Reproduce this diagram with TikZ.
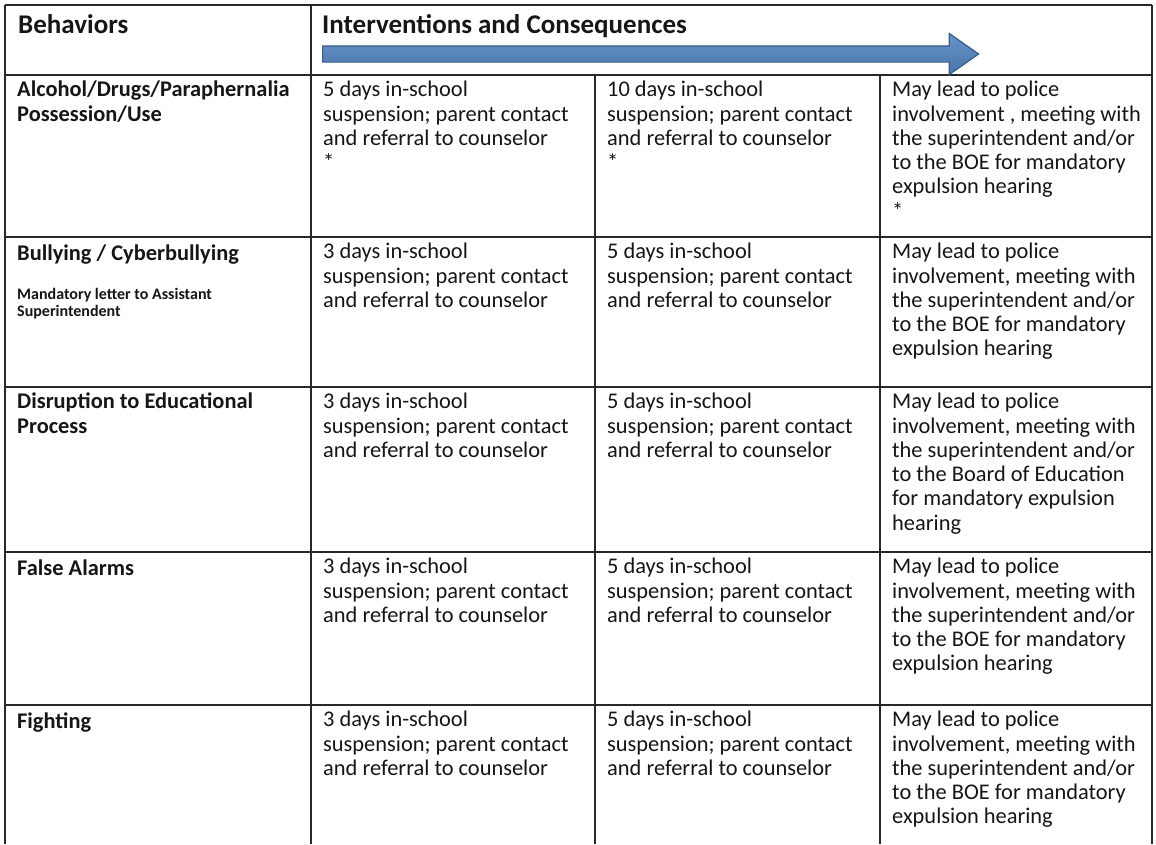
\documentclass[tikz,border=0pt]{standalone}
\usepackage{fontspec}
\setmainfont{Carlito}
\usepackage{tikz}
\usetikzlibrary{shapes.arrows, positioning}
\definecolor{gridline}{RGB}{40, 40, 40}
\definecolor{ink}{RGB}{22, 22, 22}
\definecolor{arrowblue}{RGB}{79, 129, 189}
\definecolor{arrowedge}{RGB}{56, 93, 138}
\newcommand{\bodysize}{\fontsize{22.4}{24.3}\selectfont}
\newcommand{\headsize}{\fontsize{27}{32}\selectfont}
\newcommand{\notesize}{\fontsize{16}{17}\selectfont}
\tikzset{
    cell/.style={anchor=north west, align=left, inner sep=0pt, text=ink, font=\bodysize, execute at begin node=\strut},
    behavior/.style={cell, font=\bodysize\bfseries},
    note/.style={cell, font=\notesize\bfseries},
    heading/.style={cell, font=\headsize\bfseries},
    rule/.style={draw=gridline, line width=1.8pt},
    steparrow/.style={single arrow, draw=arrowedge, line width=1.2pt, top color=arrowblue!85!white, bottom color=arrowblue!90!black, minimum height=656pt, inner xsep=0pt, inner ysep=7.5pt, single arrow head extend=12.5pt, single arrow tip angle=70, anchor=tail}
}

\begin{document}
\begin{tikzpicture}[x=1pt, y=-1pt]
        \useasboundingbox[fill=white] (0, 0) rectangle (1156, 844);

        % Table rules
        \draw[rule] (5, 5) -- (1152, 5);
        \draw[rule] (5, 75) -- (1152, 75);
        \draw[rule] (5, 237) -- (1152, 237);
        \draw[rule] (5, 387) -- (1152, 387);
        \draw[rule] (5, 552) -- (1152, 552);
        \draw[rule] (5, 705) -- (1152, 705);
        \draw[rule] (5, 5) -- (5, 844);
        \draw[rule] (311, 5) -- (311, 844);
        \draw[rule] (595, 75) -- (595, 844);
        \draw[rule] (880, 75) -- (880, 844);
        \draw[rule] (1152, 5) -- (1152, 844);

        % Header
        \node[heading] (hbeh) at (18, 11) {Behaviors};
        \node[heading] (hint) at (322, 11) {Interventions and Consequences};
        \node[steparrow] (prog) at (322, 54) {};

        % Alcohol / drugs
        \node[behavior] (b1) at (17, 81) {Alcohol/Drugs/Paraphernalia\\Possession/Use};
        \node[cell] (s1) at (323, 81) {5 days in-school\\suspension; parent contact\\and referral to counselor\\*};
        \node[cell] (t1) at (607, 81) {10 days in-school\\suspension; parent contact\\and referral to counselor\\*};
        \node[cell] (u1) at (892, 81) {May lead to police\\involvement , meeting with\\the superintendent and/or\\to the BOE for mandatory\\expulsion hearing\\*};

        % Bullying
        \node[behavior] (b2) at (17, 243) {Bullying / Cyberbullying};
        \node[note] (n2) at (17, 288) {Mandatory letter to Assistant\\Superintendent};
        \node[cell] (s2) at (323, 243) {3 days in-school\\suspension; parent contact\\and referral to counselor};
        \node[cell] (t2) at (607, 243) {5 days in-school\\suspension; parent contact\\and referral to counselor};
        \node[cell] (u2) at (892, 243) {May lead to police\\involvement, meeting with\\the superintendent and/or\\to the BOE for mandatory\\expulsion hearing};

        % Disruption
        \node[behavior] (b3) at (17, 393) {Disruption to Educational\\Process};
        \node[cell] (s3) at (323, 393) {3 days in-school\\suspension; parent contact\\and referral to counselor};
        \node[cell] (t3) at (607, 393) {5 days in-school\\suspension; parent contact\\and referral to counselor};
        \node[cell] (u3) at (892, 393) {May lead to police\\involvement, meeting with\\the superintendent and/or\\to the Board of Education\\for mandatory expulsion\\hearing};

        % False alarms
        \node[behavior] (b4) at (17, 558) {False Alarms};
        \node[cell] (s4) at (323, 558) {3 days in-school\\suspension; parent contact\\and referral to counselor};
        \node[cell] (t4) at (607, 558) {5 days in-school\\suspension; parent contact\\and referral to counselor};
        \node[cell] (u4) at (892, 558) {May lead to police\\involvement, meeting with\\the superintendent and/or\\to the BOE for mandatory\\expulsion hearing};

        % Fighting
        \node[behavior] (b5) at (17, 711) {Fighting};
        \node[cell] (s5) at (323, 711) {3 days in-school\\suspension; parent contact\\and referral to counselor};
        \node[cell] (t5) at (607, 711) {5 days in-school\\suspension; parent contact\\and referral to counselor};
        \node[cell] (u5) at (892, 711) {May lead to police\\involvement, meeting with\\the superintendent and/or\\to the BOE for mandatory\\expulsion hearing};
    \end{tikzpicture}
\end{document}
